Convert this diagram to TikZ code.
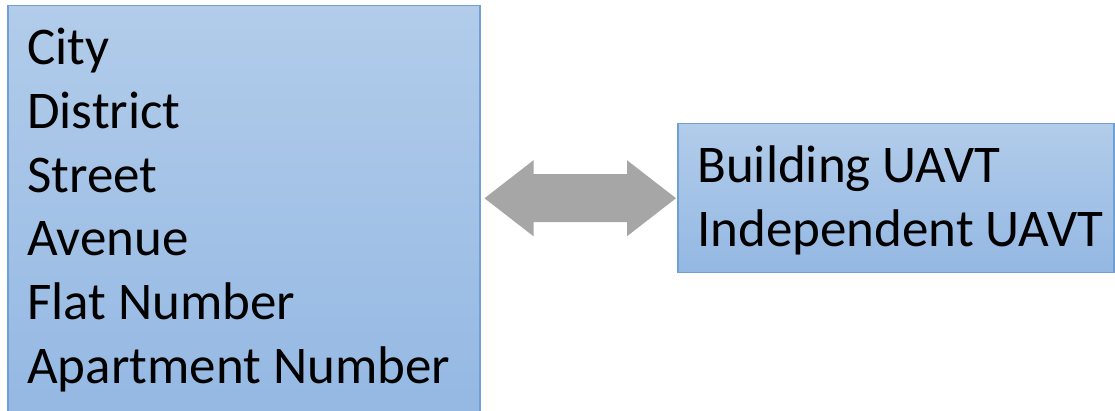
\documentclass[tikz,border=0pt]{standalone}
\usepackage{fontspec}
\setmainfont{Carlito}
\usetikzlibrary{calc}
\definecolor{boxtop}{RGB}{178,204,234}
\definecolor{boxbot}{RGB}{148,184,227}
\definecolor{boxline}{RGB}{110,160,214}
\definecolor{arrgray}{RGB}{166,166,166}
\tikzset{
    fieldbox/.style={draw=boxline,line width=1.5pt,top color=boxtop,bottom color=boxbot,inner sep=0pt,anchor=north west},
    fieldtxt/.style={anchor=base west,inner sep=0pt,font=\fontsize{53}{64}\selectfont}
}

\begin{document}
\begin{tikzpicture}[x=1pt,y=-1pt]
\useasboundingbox (0,0) rectangle (1115,411);
\node[fieldbox,minimum width=472pt,minimum height=415pt] (addr) at (7,5) {};
\node[fieldbox,minimum width=436pt,minimum height=149pt] (uavt) at (677,123) {};
\foreach \t [count=\i] in {City,District,Street,Avenue,Flat Number,Apartment Number}
  \node[fieldtxt] (a\i) at (27,{65+63.6*(\i-1)}) {\t};
\foreach \t [count=\i] in {Building UAVT,Independent UAVT}
  \node[fieldtxt] (u\i) at (697,{183+64*(\i-1)}) {\t};
% double block arrow between the two boxes
\coordinate (l) at ($(addr.east|-uavt.west)+(4,0)$);
\coordinate (r) at ($(uavt.west)+(-1,0)$);
\fill[arrgray] (l) -- ++(49,-38) -- ++(0,14) -- ($(r)+(-49,-24)$) -- ++(0,-14) -- (r)
  -- ++(-49,38) -- ++(0,-14) -- ($(l)+(49,24)$) -- ++(0,14) -- cycle;
\end{tikzpicture}
\end{document}
